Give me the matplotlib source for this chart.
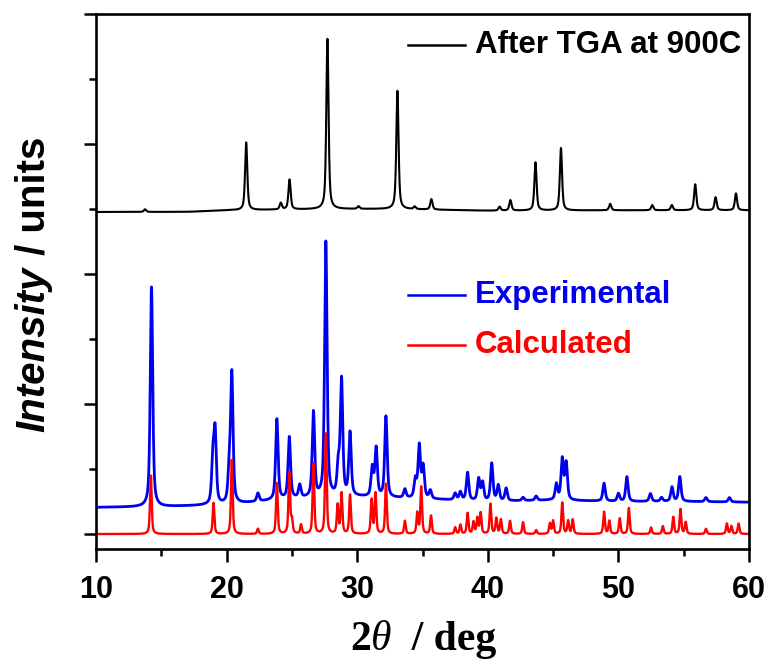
import numpy as np
import matplotlib.pyplot as plt
from matplotlib.ticker import MultipleLocator, NullFormatter

# peak positions (2theta) and peak top intensities
exp_pos = [14.25, 18.95, 19.12, 20.2, 20.4, 22.4, 23.85, 24.8, 25.6, 26.65, 27.6,
           28.55, 28.8, 29.45, 31.15, 31.45, 32.2, 33.65, 34.45, 34.75, 35.05, 35.6,
           37.5, 37.9, 38.45, 39.3, 39.6, 40.3, 40.8, 41.4, 42.7, 43.7, 45.25, 45.7,
           46.0, 48.9, 50.0, 50.65, 52.45, 53.3, 54.1, 54.7, 56.7, 58.5]
exp_top = [1.90, 0.55, 0.76, 0.45, 1.22, 0.31, 0.88, 0.74, 0.37, 0.93, 2.24,
           0.50, 1.17, 0.77, 0.50, 0.65, 0.90, 0.34, 0.41, 0.67, 0.51, 0.33,
           0.31, 0.32, 0.47, 0.42, 0.39, 0.54, 0.37, 0.35, 0.28, 0.29, 0.38, 0.57,
           0.54, 0.39, 0.31, 0.44, 0.31, 0.28, 0.36, 0.44, 0.28, 0.28]
exp_base_x = [10, 15, 20, 25, 30, 35, 40, 45, 50, 55, 60]
exp_base_y = [0.205, 0.21, 0.225, 0.27, 0.285, 0.27, 0.25, 0.26, 0.25, 0.25, 0.245]

calc_pos = [14.2, 19.0, 20.4, 22.4, 23.85, 24.8, 25.0, 25.7, 26.65, 27.6, 28.5, 28.8,
            29.45, 31.1, 31.4, 32.2, 33.65, 34.6, 34.9, 35.65, 37.5, 37.9, 38.45,
            38.9, 39.2, 39.45, 40.2, 40.65, 41.0, 41.7, 42.7, 43.7, 44.75, 45.0, 45.7,
            46.15, 46.5, 48.9, 49.3, 50.1, 50.8, 52.5, 53.4, 54.2, 54.75, 55.15, 56.7,
            58.3, 58.65, 59.2]
calc_top = [0.45, 0.24, 0.57, 0.04, 0.39, 0.47, 0.10, 0.07, 0.54, 0.77, 0.22, 0.31,
            0.30, 0.26, 0.31, 0.385, 0.10, 0.16, 0.36, 0.14, 0.05, 0.07, 0.16,
            0.09, 0.12, 0.16, 0.23, 0.12, 0.11, 0.10, 0.09, 0.03, 0.08, 0.10, 0.24,
            0.10, 0.11, 0.17, 0.10, 0.12, 0.20, 0.05, 0.06, 0.13, 0.19, 0.09, 0.04,
            0.08, 0.06, 0.08]

tga_pos = [13.75, 21.5, 24.15, 24.82, 27.72, 30.1, 33.08, 34.4, 35.68, 40.9, 41.73,
           43.65, 45.6, 49.37, 52.59, 54.09, 55.88, 57.44, 59.0]
tga_height = [0.02, 0.52, 0.05, 0.23, 1.31, 0.02, 0.91, 0.02, 0.08, 0.03, 0.08,
              0.37, 0.48, 0.05, 0.04, 0.04, 0.20, 0.10, 0.13]
tga_base_x = [10, 17, 20, 28, 33, 40, 50, 60]
tga_base_y = [2.477, 2.478, 2.49, 2.50, 2.50, 2.487, 2.49, 2.49]


def pv(x, x0, fwhm, eta=0.6):
    g = np.exp(-4 * np.log(2) * (x - x0) ** 2 / fwhm ** 2)
    l = 1 / (1 + 4 * (x - x0) ** 2 / fwhm ** 2)
    return eta * l + (1 - eta) * g


def pattern(x, pos, heights, fwhm, base):
    y = base.copy()
    for p, h in zip(pos, heights):
        y += h * pv(x, p, fwhm)
    return y


tt = np.linspace(10, 60, 6001)

exp_base = np.interp(tt, exp_base_x, exp_base_y)
exp_h = np.array(exp_top) - np.interp(exp_pos, exp_base_x, exp_base_y)
y_exp = pattern(tt, exp_pos, exp_h, 0.22, exp_base)

y_calc = pattern(tt, calc_pos, calc_top, 0.15, np.zeros_like(tt))

tga_base = np.interp(tt, tga_base_x, tga_base_y)
y_tga = pattern(tt, tga_pos, tga_height, 0.2, tga_base)

fig = plt.figure(figsize=(7.71, 6.62), dpi=100)
ax = fig.add_axes([0.1245, 0.1707, 0.847, 0.8082])

ax.plot(tt, y_tga, color='black', lw=1.5)
ax.plot(tt, y_exp, color='#0000ee', lw=2.0)
ax.plot(tt, y_calc, color='#ff0000', lw=1.7)

ax.set_xlim(10, 60)
ax.set_ylim(-0.115, 4.0)
ax.xaxis.set_major_locator(MultipleLocator(10))
ax.xaxis.set_minor_locator(MultipleLocator(5))
ax.yaxis.set_major_locator(MultipleLocator(1))
ax.yaxis.set_minor_locator(MultipleLocator(0.5))
ax.yaxis.set_major_formatter(NullFormatter())
ax.tick_params(which='major', direction='out', length=9, width=1.8)
ax.tick_params(which='minor', direction='out', length=5, width=1.8)
ax.tick_params(top=False, right=False)
for sp in ax.spines.values():
    sp.set_linewidth(1.9)

for lab in ax.get_xticklabels():
    lab.set_fontfamily('Liberation Sans')
    lab.set_fontweight('bold')
    lab.set_fontsize(22)
ax.tick_params(axis='x', pad=10)

# y label: italic "Intensity" followed by upright " / units"
t1 = ax.text(-0.096, 0.219, 'Intensity', transform=ax.transAxes, rotation=90,
             ha='center', va='bottom', fontsize=29, fontweight='bold',
             fontstyle='italic', family='Liberation Sans')
ax.annotate(' / units', xy=(0.5, 1), xycoords=t1, rotation=90, ha='center',
            va='bottom', fontsize=29, fontweight='bold', family='Liberation Sans')

# x label: "2" bold, theta italic, " / deg" bold (serif)
x1 = ax.text(0.389, -0.205, '2', transform=ax.transAxes, ha='left', va='bottom',
             fontsize=30, fontweight='bold', family='Liberation Serif')
x2 = ax.annotate('θ', xy=(1, 0), xycoords=x1, ha='left', va='bottom', fontsize=30,
                 fontstyle='italic', family='Liberation Serif')
ax.annotate('  / deg', xy=(1, 0), xycoords=x2, ha='left', va='bottom', fontsize=30,
            fontweight='bold', family='Liberation Serif')

# legend entries
legend = [('After TGA at 900C', 'black', 0.942),
          ('Experimental', '#0000ee', 0.475),
          ('Calculated', '#ff0000', 0.381)]
for label, col, yy in legend:
    ax.plot([0.478, 0.565], [yy, yy], color=col, lw=1.8, transform=ax.transAxes)
    ax.text(0.58, yy, label, color=col, transform=ax.transAxes, ha='left', va='center',
            fontsize=22.5, fontweight='bold', family='Liberation Sans')

fig.savefig('out.png', dpi=100)
